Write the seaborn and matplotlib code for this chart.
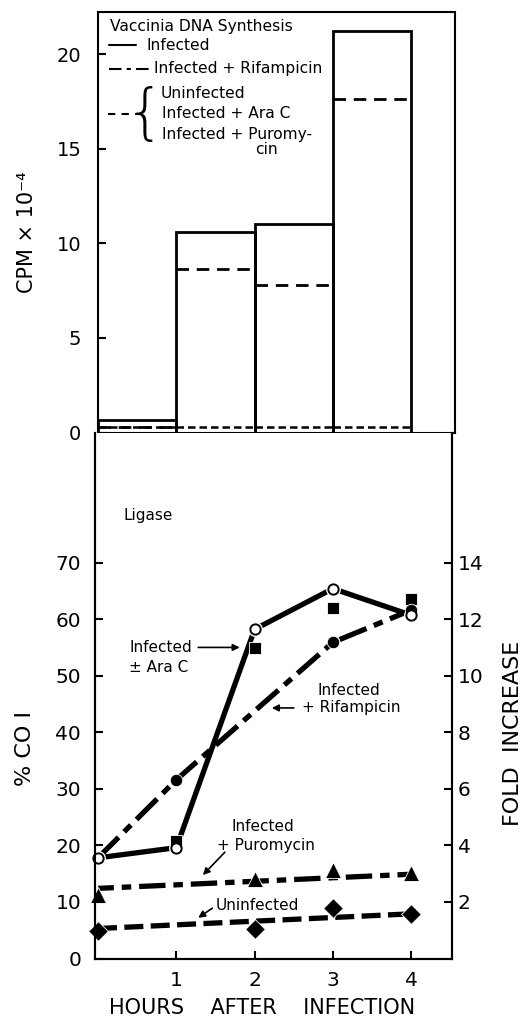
import numpy as np
import pandas as pd
import matplotlib
matplotlib.use("Agg")
import matplotlib.pyplot as plt
import seaborn as sns

# ---------------- data ----------------
# Top panel: vaccinia DNA synthesis (CPM x 10^-4) per hour interval
bar_left = [0, 1, 2, 3]
bar_right = [1, 2, 3, 4]
infected_cpm = [0.65, 10.6, 11.0, 21.25]
rifampicin_cpm = [0.30, 8.65, 7.8, 17.65]
uninfected_cpm = [0.28, 0.28, 0.28, 0.28]

# Bottom panel: ligase (% COI)
hours_all = [0, 1, 2, 3, 4]
infected_lig = [17.8, 19.6, 58.2, 65.4, 60.7]          # open circles, solid line
aracs_hours = [1, 2, 3, 4]
aracs_lig = [20.8, 54.9, 62.0, 63.6]                   # filled squares
rif_hours = [1, 3, 4]
rif_lig = [31.6, 55.9, 61.6]                           # filled circles
puro_hours = [0, 2, 3, 4]
puro_lig = [11.2, 14.1, 15.7, 15.1]                    # triangles
puro_trend_hours = [0, 4]
puro_trend = [12.4, 14.9]
uninf_hours = [0, 2, 3, 4]
uninf_lig = [4.8, 5.2, 9.0, 7.9]                       # diamonds
uninf_trend_hours = [0, 4]
uninf_trend = [5.3, 7.9]

top_yticks = [0, 5, 10, 15, 20]
bot_yticks = [0, 10, 20, 30, 40, 50, 60, 70]
fold_ticks = [2, 4, 6, 8, 10, 12, 14]
x_ticks = [1, 2, 3, 4]

# ---------------- style ----------------
sns.set_theme(style="ticks")
K = 'black'
plt.rcParams['font.family'] = ['DejaVu Sans']
plt.rcParams['axes.linewidth'] = 1.5
plt.rcParams['xtick.direction'] = 'in'
plt.rcParams['ytick.direction'] = 'in'
for key in ['text.color', 'axes.labelcolor', 'xtick.color', 'ytick.color',
            'axes.edgecolor']:
    plt.rcParams[key] = K

fig = plt.figure(figsize=(5.26, 10.19), dpi=100)
W, H = 526, 1019

def pos(l, t, r, b):
    return [l / W, 1 - b / H, (r - l) / W, (b - t) / H]

ax1 = fig.add_axes(pos(98, 11.7, 455, 432.5))
ax2 = fig.add_axes(pos(95, 432.5, 452, 958.5))

# ---------------- top panel ----------------
centers = [(a + b) / 2 for a, b in zip(bar_left, bar_right)]
df_top = pd.DataFrame({"x": centers, "y": infected_cpm})
sns.barplot(data=df_top, x="x", y="y", native_scale=True, width=1.0,
            fill=False, edgecolor=K, linewidth=2.0, errorbar=None, ax=ax1)
ax1.hlines(rifampicin_cpm, bar_left, bar_right, colors=K, linewidth=2.0,
           linestyles=[(0, (4.5, 2.8))])
ax1.hlines(uninfected_cpm, bar_left, bar_right, colors=K, linewidth=1.8,
           linestyles=[(0, (3.0, 1.6))])
ax1.set_xlim(0, 357 / 78.3)
ax1.set_ylim(0, 22.25)
ax1.set_yticks(top_yticks)
ax1.set_xticks([])
ax1.set_xlabel("")
ax1.set_ylabel("CPM × 10⁻⁴", fontsize=15)
ax1.yaxis.set_label_coords((27 - 98) / 357, (432.5 - 232) / 420.8)
ax1.yaxis.label.set_va('center')
ax1.tick_params(axis='y', labelsize=14, length=6, width=1.5, pad=12)

# legend drawn as text
def tpx(x, y):
    return ((x - 98) / 357, 1 - (y - 11.7) / (432.5 - 11.7))

fs_leg = 11.2
def ltext(x, y, s, **kw):
    ax1.text(*tpx(x, y), s, transform=ax1.transAxes, fontsize=fs_leg,
             va='center', ha='left', **kw)

def lline(x0, x1, y, ls):
    ax1.plot([tpx(x0, y)[0], tpx(x1, y)[0]], [tpx(x0, y)[1]] * 2,
             transform=ax1.transAxes, color=K, lw=1.5, linestyle=ls)

ltext(110, 26, "Vaccinia DNA Synthesis")
lline(109, 136, 45, '-')
ltext(146, 45, "Infected")
lline(109, 149, 69, (0, (6, 2.5, 2, 2.5)))
ltext(154, 69, "Infected + Rifampicin")
lline(108, 138, 114, (0, (3.5, 3)))
ax1.text(*tpx(165, 116), "{", transform=ax1.transAxes, fontsize=44,
         va='center', ha='right', fontweight='light')
ltext(161, 94, "Uninfected")
ltext(162, 114, "Infected + Ara C")
ltext(162, 134, "Infected + Puromy-")
ltext(255, 150, "cin")

# ---------------- bottom panel ----------------
LW = 3.8
sns.lineplot(x=hours_all, y=infected_lig, color=K, linewidth=LW, ax=ax2,
             errorbar=None, solid_capstyle='butt', zorder=2)
sns.lineplot(x=[hours_all[0]] + rif_hours, y=[infected_lig[0]] + rif_lig, color=K,
             linewidth=LW, ax=ax2, errorbar=None,
             linestyle=(0, (5.5, 1.5, 1.8, 1.5)), dash_capstyle='butt', zorder=2)
sns.lineplot(x=puro_trend_hours, y=puro_trend, color=K, linewidth=LW, ax=ax2,
             errorbar=None, linestyle=(2, (5.0, 1.5, 1.8, 1.5)),
             dash_capstyle='butt', zorder=2)
sns.lineplot(x=uninf_trend_hours, y=uninf_trend, color=K, linewidth=LW, ax=ax2,
             errorbar=None, linestyle=(0, (3.6, 1.4)), dash_capstyle='butt', zorder=2)

# white halos under open circles
sns.scatterplot(x=hours_all, y=infected_lig, s=115, marker='o', color='white',
                linewidth=0, ax=ax2, zorder=4, clip_on=False, legend=False)
sns.scatterplot(x=aracs_hours, y=aracs_lig, s=65, marker='s', color=K,
                edgecolor='white', linewidth=0.6, ax=ax2, zorder=5, legend=False)
sns.scatterplot(x=hours_all, y=infected_lig, s=55, marker='o', facecolor='white',
                edgecolor=K, linewidth=1.4, ax=ax2, zorder=6, clip_on=False,
                legend=False)
sns.scatterplot(x=rif_hours, y=rif_lig, s=80, marker='o', color=K,
                edgecolor='white', linewidth=0.6, ax=ax2, zorder=5, legend=False)
sns.scatterplot(x=puro_hours, y=puro_lig, s=130, marker='^', color=K,
                edgecolor='white', linewidth=0.6, ax=ax2, zorder=5,
                clip_on=False, legend=False)
sns.scatterplot(x=uninf_hours, y=uninf_lig, s=100, marker='D', color=K,
                edgecolor='white', linewidth=0.6, ax=ax2, zorder=5,
                clip_on=False, legend=False)

ax2.set_xlim(-3 / 78.3, 354 / 78.3)
ax2.set_ylim(0, 93)
ax2.set_xticks(x_ticks)
ax2.set_xticklabels([str(v) for v in x_ticks])
ax2.set_yticks(bot_yticks)
ax2.tick_params(axis='both', labelsize=14.5, length=6, width=1.5)
ax2.tick_params(axis='y', pad=10)
ax2.tick_params(axis='x', pad=9)
ax2.spines['top'].set_visible(False)
ax2.set_xlabel("HOURS    AFTER    INFECTION", fontsize=15)
ax2.xaxis.set_label_coords((262 - 95) / 357, -(1008 - 958.5) / 526)
ax2.xaxis.label.set_va('center')
ax2.set_ylabel("% CO I", fontsize=16)
ax2.yaxis.set_label_coords((25 - 95) / 357, (958.5 - 748) / 526)
ax2.yaxis.label.set_va('center')

axr = ax2.twinx()
axr.set_ylim(0, 93 / 5)
axr.set_yticks(fold_ticks)
axr.tick_params(axis='y', labelsize=14.5, length=6, width=1.5, pad=4,
                direction='in')
axr.spines['top'].set_visible(False)
axr.set_ylabel("FOLD  INCREASE", fontsize=16)
axr.yaxis.set_label_coords((513 - 95) / 357, (958.5 - 733) / 526)
axr.yaxis.label.set_va('center')

# annotations
fs_a = 11
arrow = dict(arrowstyle='-|>', lw=1.2, color=K, mutation_scale=10,
             shrinkA=0, shrinkB=0)
ax2.text(0.32, 78.4, "Ligase", fontsize=fs_a, va='center', ha='left')
ax2.text(0.40, 55.0, "Infected", fontsize=fs_a, va='center', ha='left')
ax2.text(0.40, 51.5, "± Ara C", fontsize=fs_a, va='center', ha='left')
ax2.annotate("", xy=(1.81, 55.0), xytext=(1.28, 55.0), arrowprops=arrow)
ax2.text(2.80, 47.4, "Infected", fontsize=fs_a, va='center', ha='left')
ax2.text(2.60, 44.3, "+ Rifampicin", fontsize=fs_a, va='center', ha='left')
ax2.annotate("", xy=(2.22, 44.3), xytext=(2.50, 44.3), arrowprops=arrow)
ax2.text(1.71, 23.4, "Infected", fontsize=fs_a, va='center', ha='left')
ax2.text(1.52, 19.9, "+ Puromycin", fontsize=fs_a, va='center', ha='left')
ax2.annotate("", xy=(1.34, 14.75), xytext=(1.62, 18.8), arrowprops=arrow)
ax2.text(1.50, 9.45, "Uninfected", fontsize=fs_a, va='center', ha='left')
ax2.annotate("", xy=(1.28, 7.2), xytext=(1.46, 8.9), arrowprops=arrow)

fig.savefig("out.png", dpi=100, facecolor='white')
